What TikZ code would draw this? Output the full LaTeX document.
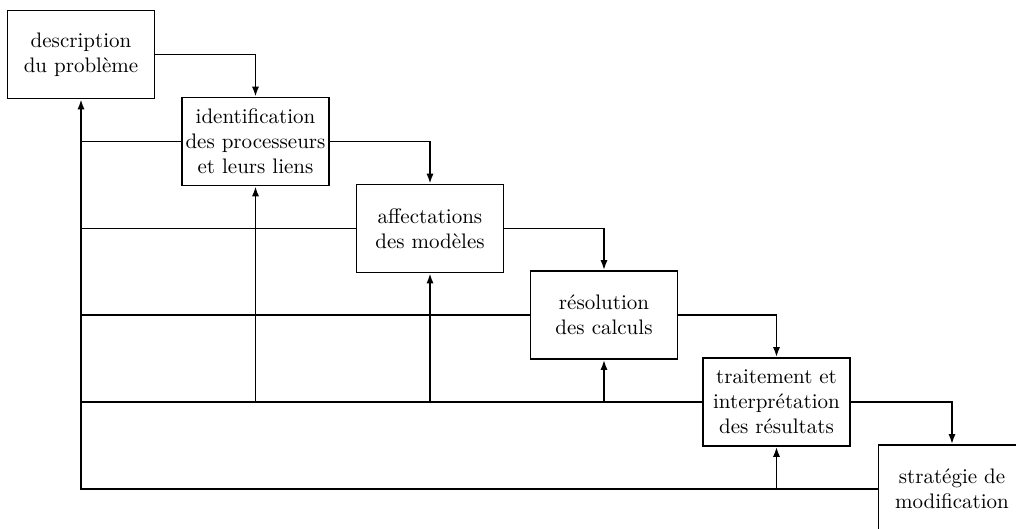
\documentclass[tikz,border=0pt]{standalone}
\usetikzlibrary{arrows.meta}
\begin{document}
\begin{tikzpicture}[x=0.5pt, y=-0.5pt,
  stage/.style={draw, line width=0.9pt, minimum width=73.5pt, minimum height=44pt,
    inner sep=0pt, align=center, font=\fontsize{10.5}{12.5}\selectfont},
  link/.style={line width=0.9pt},
  arr/.style={link, -{Latex[length=5pt, width=3.6pt]}}]
\useasboundingbox (0,0) rectangle (1016,529);
\clip (0,0) rectangle (1016,529);

% stages of the procedure, in a descending staircase
\node[stage] (b1) at (81,54.5)  {description\\du problème};
\node[stage] (b2) at (255.5,141.5) {identification\\des processeurs\\et leurs liens};
\node[stage] (b3) at (430,228.5) {affectations\\des modèles};
\node[stage] (b4) at (604,315)   {résolution\\des calculs};
\node[stage] (b5) at (776.5,402) {traitement et\\interprétation\\des résultats};
\node[stage] (b6) at (952,489)   {stratégie de\\modification};

% forward flow
\draw[arr] (b1.east) -| (b2.north);
\draw[arr] (b2.east) -| (b3.north);
\draw[arr] (b3.east) -| (b4.north);
\draw[arr] (b4.east) -| (b5.north);
\draw[arr] (b5.east) -| (b6.north);

% feedback from the last stage back to the first
\draw[arr] (b6.west) -| (b1.south);
\draw[link] (b2.west) -- (b2.west -| b1.south);
\draw[link] (b3.west) -- (b3.west -| b1.south);
\draw[link] (b4.west) -- (b4.west -| b1.south);
\draw[link] (b5.west) -- (b5.west -| b1.south);

% feedback into the intermediate stages
\draw[arr] (b5.west -| b2.south) -- (b2.south);
\draw[arr] (b5.west -| b3.south) -- (b3.south);
\draw[arr] (b5.west -| b4.south) -- (b4.south);
\draw[arr] (b6.west -| b5.south) -- (b5.south);
\end{tikzpicture}
\end{document}
